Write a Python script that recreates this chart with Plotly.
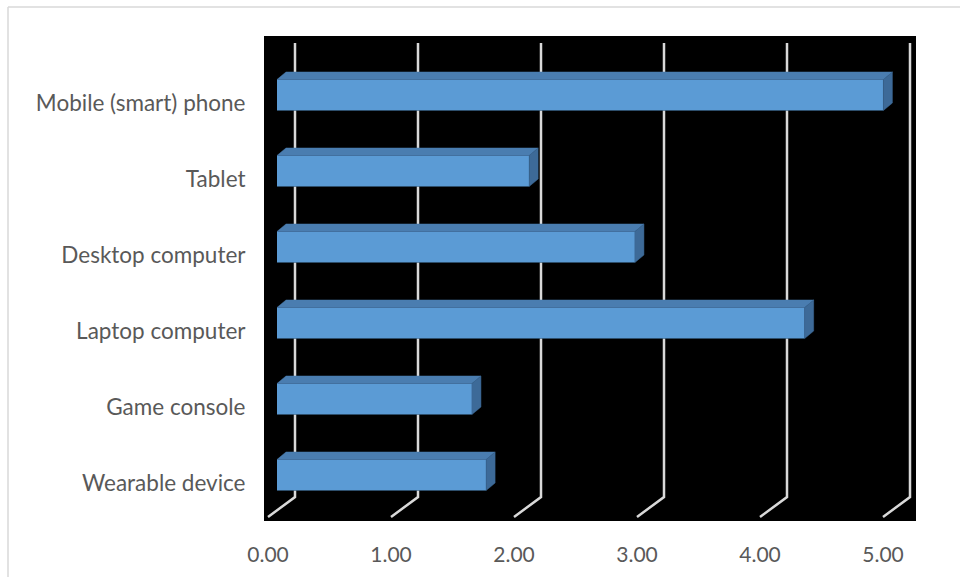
import plotly.graph_objects as go

categories = ["Mobile (smart) phone", "Tablet", "Desktop computer",
              "Laptop computer", "Game console", "Wearable device"]
values = [4.93, 2.05, 2.91, 4.29, 1.585, 1.70]
tick_vals = [0, 1, 2, 3, 4, 5]
tick_text = ["0.00", "1.00", "2.00", "3.00", "4.00", "5.00"]

FRONT = "#5B9BD5"
TOP = "#4A7DB0"
SIDE = "#3D6A98"
GRID = "#D9D9D9"

W, H = 960, 577
L, R, T, B = 264, 44, 36, 56
pw, ph = W - L - R, H - T - B

# value axis: 123 px per unit, bar plane zero at x=277 px
ppx = 123.0
x0 = -(277 - L) / ppx
xr = [x0, x0 + pw / ppx]
# category axis: 76 px per category
ppy = 76.0
n = len(categories)
ypos = [n - 1 - i for i in range(n)]
ytop_val = (n - 1) + (95 - T) / ppy
yr = [ytop_val - ph / ppy, ytop_val]

dx = 9 / ppx       # depth offset in value units
dy = 7.5 / ppy     # depth offset in category units
bw = 31 / ppy      # bar thickness

fig = go.Figure()

# gridlines in 3D perspective (back wall + floor); hidden where bars stand in front
back_off = 18 / ppx
front_off = -9 / ppx
g_top = ytop_val - (43 - T) / ppy
g_knee = ytop_val - (497 - T) / ppy
g_bot = ytop_val - (517 - T) / ppy
for t in tick_vals:
    gx = t + back_off
    gaps = []
    for v, y in zip(values, ypos):
        top = y + bw / 2
        bot = y - bw / 2
        if gx <= v + dx:
            lo = bot if gx <= v else bot + (gx - v) / dx * dy
            gaps.append((lo, top + dy))
    gaps.sort(key=lambda g: -g[1])
    xs, ys = [], []
    cur = g_top
    for lo, hi in gaps:
        xs += [gx, gx, None]
        ys += [cur, hi, None]
        cur = lo
    xs += [gx, gx, t + front_off]
    ys += [cur, g_knee, g_bot]
    fig.add_trace(go.Scatter(
        x=xs, y=ys, mode="lines", line=dict(color=GRID, width=2.5),
        connectgaps=False, hoverinfo="skip", showlegend=False))

for v, y in zip(values, ypos):
    top = y + bw / 2
    bot = y - bw / 2
    fig.add_trace(go.Scatter(
        x=[0, v, v + dx, dx, 0], y=[top, top, top + dy, top + dy, top],
        fill="toself", fillcolor=TOP, mode="lines",
        line=dict(color=TOP, width=0.5), hoverinfo="skip",
        showlegend=False, xaxis="x2", yaxis="y2"))
    fig.add_trace(go.Scatter(
        x=[v, v + dx, v + dx, v, v], y=[top, top + dy, bot + dy, bot, top],
        fill="toself", fillcolor=SIDE, mode="lines",
        line=dict(color=SIDE, width=0.5), hoverinfo="skip",
        showlegend=False, xaxis="x2", yaxis="y2"))

fig.add_trace(go.Bar(
    x=values, y=ypos, orientation="h", width=bw,
    marker=dict(color=FRONT, line=dict(width=0)),
    showlegend=False, hoverinfo="x", xaxis="x2", yaxis="y2"))

yfont = dict(family="Lato, 'Open Sans', sans-serif", size=22.5, color="#595959")
xfont = dict(family="Lato, 'Open Sans', sans-serif", size=21, color="#595959")

shapes = [
    dict(type="line", xref="paper", yref="paper",
         x0=(8 - L) / pw, x1=(W - L) / pw,
         y0=1 + (T - 7) / ph, y1=1 + (T - 7) / ph,
         line=dict(color="#D9D9D9", width=1.5)),
    dict(type="line", xref="paper", yref="paper",
         x0=(8 - L) / pw, x1=(8 - L) / pw,
         y0=1 + (T - 7) / ph, y1=-(B) / ph,
         line=dict(color="#D9D9D9", width=1.5)),
]

hidden = dict(showgrid=False, zeroline=False, showline=False,
              showticklabels=False, ticks="", fixedrange=True)

fig.update_layout(
    width=W, height=H,
    margin=dict(l=L, r=R, t=T, b=B, pad=0),
    paper_bgcolor="white", plot_bgcolor="black",
    showlegend=False,
    xaxis=dict(range=xr, tickvals=tick_vals, ticktext=tick_text,
               showgrid=False, zeroline=False, showline=False,
               ticks="outside", ticklen=15, tickcolor="rgba(0,0,0,0)",
               ticklabelshift=-9, tickfont=xfont, fixedrange=True),
    yaxis=dict(range=yr, tickvals=ypos, ticktext=categories,
               showgrid=False, zeroline=False, showline=False,
               ticks="outside", ticklen=13, tickcolor="rgba(0,0,0,0)",
               ticklabelshift=8, tickfont=yfont, fixedrange=True),
    xaxis2=dict(range=xr, overlaying="x", **hidden),
    yaxis2=dict(range=yr, overlaying="y", **hidden),
    shapes=shapes,
)

fig.write_html("out.html")
